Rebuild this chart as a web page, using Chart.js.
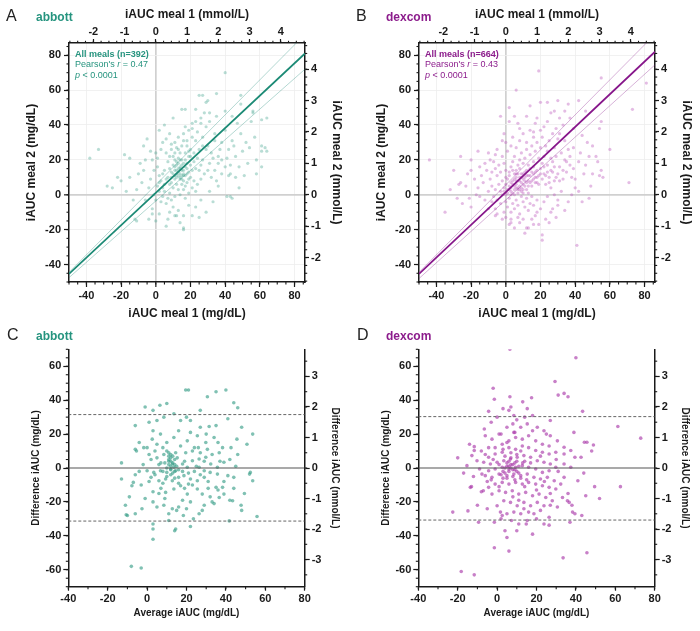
<!DOCTYPE html>
<html><head><meta charset="utf-8">
<script src="https://cdn.jsdelivr.net/npm/chart.js@4/dist/chart.umd.min.js"></script>
<style>
html,body{margin:0;padding:0;background:#fff;}
#wrap{position:relative;width:700px;height:631px;overflow:hidden;background:#fff}
canvas{position:absolute}
</style></head><body>
<div id="wrap">
<canvas id="cA" width="350" height="325" style="left:0;top:0"></canvas>
<canvas id="cB" width="350" height="325" style="left:350px;top:0"></canvas>
<canvas id="cC" width="350" height="311" style="left:0;top:320px"></canvas>
<canvas id="cD" width="350" height="311" style="left:350px;top:320px"></canvas>
</div>
<script>
// ---------- tick labels ----------
const mgTicksScatter = [-40, -20, 0, 20, 40, 60, 80];
const mmolTicksScatter = [-2, -1, 0, 1, 2, 3, 4];
const mgTicksAvg = [-40, -20, 0, 20, 40, 60, 80];
const mgTicksDiff = [-60, -40, -20, 0, 20, 40, 60];
const mmolTicksDiff = [-3, -2, -1, 0, 1, 2, 3];

// ---------- panel labels / titles ----------
const panelLetters = ['A', 'B', 'C', 'D'];
const deviceNames = ['abbott', 'dexcom'];
const mealCounts = ['All meals (n=392)', 'All meals (n=664)'];
const pearsonR = ['0.47', '0.43'];
const pValues = ['< 0.0001', '< 0.0001'];

// ---------- regression / identity lines (x = lineX) ----------
const lineX = [-50, 86];
const abbottFit = [-45.4, 81];
const abbottUpper = [-44.5, 92];
const abbottLower = [-47.5, 72];
const dexcomFit = [-45.3, 82];
const dexcomUpper = [-44.5, 92];
const dexcomLower = [-48, 74.5];

// ---------- Bland-Altman reference lines ----------
const baX = [-40, 80];
const abbottLoA = [31.5, -31.3];
const dexcomLoA = [30.3, -30.7];

// ---------- A: abbott meal 1 vs meal 2 (mg/dL) ----------
const abbottScatter = [
[40,70],[25,57],[35,58],[49,57],[15,49],[29,53],[23,49],[31,47],[40,48],[49,52],[56,47],[61,43],[55,42],[49,35],[23,42],[21,41],[26,41],[17,39],[19,37],[29,39],[34,35],[40,37],[44,31],[54,27],[61,28],[61,25],[61,16],[48,16],[51,11],[42,11],[38,20],[32,24],[27,28],[23,31],[16,31],[11,30],[9,26],[6,24],[13,26],[17,24],[11,20],[12,17],[14,15],[11,14],[8,15],[4,12],[2,11],[16,11],[19,9],[21,14],[25,14],[27,20],[31,18],[34,14],[-5,32],[-33,26],[-38,21],[-15,21],[-9,18],[-6,20],[-7,14],[-15,10],[-20,8],[-25,4],[-11,3],[-4,4],[2,2],[4,-1],[8,1],[0,-3],[6,-5],[10,-7],[-2,-8],[2,-11],[8,-10],[13,-9],[11,-12],[16,-12],[21,-12],[6,-18],[16,-19],[-2,-11],[-6,-3],[-13,-3],[-12,-14],[29,-10],[41,-1],[43,-1],[19,-6],[23,-7],[26,-3],[31,2],[36,5],[43,12],[46,10],[17,5],[13,3],[11,9],[9,7],[5,6],[15,20],[19,22],[22,24],[25,26],[13,33],[8,35],[4,30],[0,24],[-2,20],[1,16],[34,31],[38,30],[42,26],[46,22],[53,18],[36,22],[29,26],
[-11,-15],[16,-20],[14,-16],[12,-12],[44,-2],[58,12],[64,25],[27,57],[17,49],[30,54],[56,48],[64,44],[63,27],[-18,23],
[12,10],[14,12],[13,13],[15,11],[12,14],[14,16],[16,14],[10,12],[13,18],[15,17],[17,16],[18,12],[11,11],[14,9],[16,8],[12,6],[10,4],[18,18],[20,17],[22,19],[24,21],[20,26],[18,28],[14,24],[10,22],[7,19],[5,14],[3,8],[7,10],[9,13],[20,10],[22,8],[24,6],[26,9],[28,12],[30,14],[32,10],[35,8],[38,12],[40,16],[36,18],[33,21],[30,28],[27,33],[24,36],[21,33],[18,31],[15,28],[12,27],[9,29],[6,32],[3,26],[1,21],[-1,14],[-3,9],[1,5],[-1,0],[3,-4],[5,2],[7,-2],[9,-3],[11,-1],[14,0],[17,-2],[19,1],[21,4],[23,2],[16,3],[15,6],[18,7],[20,22],[23,15],[26,17],[19,25],[17,20],[13,21],[11,24],[8,22],[16,35],[21,38],[26,44],[31,42],[35,45],[28,47],[44,45],[47,41],[45,28],[50,25],[52,30],[57,33],[58,20],[37,26],[41,21],[43,17],[48,4],[33,-4],[25,-13],[7,-14],[0,-15],[-4,-14],[-8,7],[-10,12],[-17,2],[-22,10],[-28,5],[-3,25],[-7,28],[2,37],[5,40],[10,44],
[13,11],[15,14],[12,12],[14,10],[16,12],[11,16],[13,15],[15,9],[17,11],[12,19],[10,17],[14,20],[16,18],[18,15],[19,13],[9,10],[8,6],[6,9],[4,4],[2,7]
];

// ---------- B: dexcom meal 1 vs meal 2 (mg/dL) ----------
const dexcomScatter = [
[19,71],[55,67],[81,64],[6,60],[73,49],[20,53],[24,53],[30,54],[36,52],[42,54],[28,48],[34,48],[46,48],[55,42],[54,38],[60,26],[55,14],[54,11],[71,7],[50,12],[46,17],[42,19],[39,27],[34,31],[31,35],[29,38],[22,39],[17,41],[16,36],[7,41],[-2,31],[0,30],[-6,23],[-9,20],[-16,25],[-26,22],[-44,20],[-20,14],[-26,7],[-23,5],[-15,-1],[-10,-8],[-6,-12],[-2,-14],[3,-16],[7,-13],[11,-22],[21,-26],[41,-29],[16,-17],[17,-12],[23,-14],[27,-8],[30,-6],[36,-4],[42,2],[-28,-2],
[-35,-10],[-27,6],[-21,-2],[-20,-7],[-5,-11],[3,-14],[13,-19],[21,-23],[56,10],[48,22],[53,19],
[0,0],[2,3],[4,1],[5,5],[7,4],[3,7],[1,9],[6,10],[8,8],[10,6],[9,12],[11,10],[12,14],[13,8],[14,11],[15,5],[16,9],[17,13],[18,7],[19,11],[20,15],[21,9],[22,12],[23,6],[24,17],[25,10],[26,14],[27,19],[28,8],[29,22],[30,12],[31,16],[32,24],[33,9],[34,20],[35,13],[36,26],[37,17],[38,10],[-1,4],[-2,8],[-3,2],[-4,6],[-5,11],[-6,3],[-7,-1],[-8,5],[-9,9],[-10,2],[-11,14],[-12,-3],[-13,7],[-14,11],[-16,4],[-18,9],[0,-4],[1,-7],[2,-2],[3,-10],[4,-5],[5,-8],[6,-3],[7,-6],[8,-11],[9,-1],[10,-4],[11,-7],[12,-2],[13,-9],[14,-5],[15,-1],[16,-6],[18,-3],[20,-8],[22,-4],[24,-1],[26,-10],[28,0],[30,-3],[32,2],[2,13],[3,16],[4,19],[5,22],[6,14],[7,17],[8,20],[9,24],[10,18],[11,21],[12,26],[13,17],[14,23],[15,28],[16,19],[17,25],[18,30],[19,21],[20,27],[21,33],[22,22],[23,28],[24,25],[25,31],[26,21],[27,35],[28,27],[30,32],[0,14],[-1,18],[-2,22],[-3,13],[-4,17],[-5,26],[-6,15],[-7,19],[-8,13],[-10,24],[1,25],[3,28],[4,33],[6,27],[8,31],[10,35],[12,30],[14,37],[16,33],[18,44],[20,37],[24,42],[12,45],[8,38],[-1,35],[2,42],[5,3],[6,6],[7,1],[8,3],[9,7],[10,1],[11,5],[12,3],[13,1],[14,7],[3,4],[4,8],[5,12],[6,8],[7,12],[8,15],[9,4],[10,9],[11,13],[12,7],[13,11],[14,15],[15,13],[16,16],[17,10],[18,14],[19,6],[20,12],[21,18],[22,16],[23,11],[24,13],[25,7],[26,4],[27,13],[28,16],[29,10],[31,8],[33,14],[35,19],[37,22],[39,15],[40,9],[43,24],[45,12],[47,30],[49,5],[52,22],[-2,0],[-3,-5],[-5,-3],[-6,-8],[-8,-4],[-1,-10],[0,-13],[2,-17],[5,-19],[8,-16],[10,-14],[12,-19],[15,-14],[18,-10],[19,-17],[25,-16],[29,-13],[34,-9],[38,0],[40,4],[44,-4],[48,-2],[-12,18],[-15,16],[-17,0],[-20,20],[-22,12],[-25,-5],[-30,14],[-32,3],[2,50],[14,51],[-3,45],[5,45],[26,47],[31,44],[39,38],[44,34],[50,28],[37,44],[33,40],
[1,1],[3,2],[5,0],[7,3],[9,2],[4,6],[6,4],[8,5],[10,3],[2,5],[0,6],[1,3],[3,0],[5,9],[7,8],[9,10],[11,8],[-1,2],[0,10],[2,11],[4,14],[6,12],[8,10],[10,12],[12,11],[13,5],[15,8],[16,12],[17,7],[18,10]
];

// ---------- C: abbott Bland-Altman (average, difference) ----------
const abbottBA = [
[-8,-58],[-3,-59],[3,-42],[3,-36],[3,-33],[14,-37],[14.5,-36],[11,-31],[-13,-6.5],[-13,3],[-10.6,-27.6],[-10,-28],[-6,-27],[-7,-8.5],[-7.7,-10.5],[-2.6,-24],[-5.4,10],[-6,11],[-6,25],[-1,36],[3,34],[6.5,37],[10,38],[19.6,46],[21,46],[30.6,42],[35,45],[40,46],[44,38.5],[46,35.5],[27,34],[13.6,32],[41,29],[48,24],[35,25],[31.5,24.5],[45.6,17],[50.7,14],[53.6,20],[52.4,-2.6],[52,-3.6],[53.6,-7.5],[55.8,-28.6],[49.4,-15],[42,-19],[43.4,-19.3],[41.7,-31.2],[47.7,-22],[39,-15.4],[38.3,-11.4],[35,-11.4],[36.6,-17.4],[34,-21],[32,-17],[29,-22],[26.4,-27],[23.5,-30],[22,-34.5],[18.4,-28],[16,-23],[12.8,-24],[11,-27],[8.5,-22],[5,-23],[3,-20],[6,-15],[9.4,-14.4],[13.6,-12.4],[17,-10.5],[21,-9.5],[25.5,-7.5],[29,-5.5],[32,-2.6],[35.7,0.4],[39,3.4],[42.6,12],[38.3,12],[34,18],[29.8,15],[25.5,19],[22,21],[20.4,16],[17,13],[13.6,18],[10,15],[6.8,20],[2.6,17],[-1.7,12],[1,8],[5,6],[8.5,8],[11,4],[12.8,2.4],[13.6,0.4],[12,-0.6],[14.5,-1.6],[10,-2.6],[6.8,-1.6],[3.4,-2.6],[0,-1.6],[18,2.4],[20.4,0.4],[23,4.3],[26.4,5.3],[29.8,6.3],[32.3,2.4],[18.7,-4.5],[22,-6.5],[16,-5.5],[12.8,-7.5],[9.4,-6.5],[6,-7.5],[2,-5.5],[25.5,-12.4],[28,-15.4],[20.4,-15.4],[18,-19],[12,8],[14.5,9],[15.3,6],[11,9],[19.6,9],[23,10],[27,9],[30.6,11],[36.6,9],[26.4,0.4],[29,-1.6],[35.7,-3.6],[41,-4.5],[44,-5.5],[1,27],[5,28],[8.5,30],[17,28],[22,28],[27,24],
[11,2],[12,-1],[13,3],[12,1],[14,-2],[10,0],[13,-3],[11,5],[15,1],[12,4],[9,3],[14,2],[16,-1],[8,-2],[10,-5],[6,2],[4,-4],[2,5],[1,-8],[-2,2],[-3,-10],[0,12],[3,22],[7,3],[8,12],[18,-2],[19,4],[21,-3],[23,-10],[24,12],[25,1],[27,-4],[29,4],[31,-8],[33,8],[36,-13],[39,-8],[42,5],[44,-12],[46,8],[-4,15],[-6,-4],[-9,-17],[-11,-22],[5,14],[9,-18],[16,22],[20,30],[30,20],[15,-25],[22,-20],[28,-25],[33,-20],[36,15],[45,1],[48,-25],
[12,6],[13,7],[11,7],[14,5],[10,10],[12,-4],[14,-6],[16,-9],[8,-9],[4,10],[19,-12],[24,-2],[7,-12],[3,-14],[20,-24],[26,12],[31,-12],[-1,-18],[-4,-2],[37,4]
];

// ---------- D: dexcom Bland-Altman (average, difference) ----------
const dexcomBA = [
[6.5,70],[40,65],[29.4,51],[-2,47],[34,44],[31,43],[36,42],[17.5,41.4],[-1.4,40.5],[6.5,42],[3,35],[6,34],[-4.3,33.4],[15.3,35],[43.4,33.4],[61.3,24.5],[72.9,17.6],[48.9,13.6],[45.6,15.2],[39,21],[27,28],[18,31],[8.5,31],[10,28.4],[-6.5,23],[-6,19],[-11.6,12.6],[-11.6,10.3],[-12.8,7.3],[-10.2,4.3],[-15.3,1.4],[-8.9,-0.6],[-7.7,-3.6],[-13.6,-11.4],[-13,-11],[-7,-13.4],[-14.8,-25.3],[-22.5,-26],[-9.4,-32],[-1.4,-32],[-1.4,-47],[5,-41],[6,-49],[-18.2,-61],[-11.6,-63],[33.5,-53],[45.6,-50],[15.3,-31],[14.8,-33],[18,-39],[10,-37],[7.3,-31],[5,-27],[2.6,-28],[23.8,-33],[26.4,-33.7],[37,-32],[38.3,-26],[39.5,-27],[35.7,-19.3],[36.6,-20.3],[45,-16.4],[49.5,-11],[62.6,-11],[41,-7.5],[34,-5.5],[37.4,0.4],[34,2.4],[42.6,6.3],[44.3,15.2],[39.5,6.3],[37.4,10.3],[34,12.2],[30.6,16],[27,19],[23.8,22],[20.4,24],[15.3,26],[12,24],[8.5,21],[5,24],[1,20],[-2.6,17],[-4.3,12],[-1,12],[2.6,14],[6,16],[9.4,18],[12.8,17],[16,19],[19.6,16],[23,14],[26.4,13],[29.8,9.3],[34,8.3],[26.4,8.3],[23,9.3],[19.6,10.3],[16,12],[12.8,13],[9.4,11],[6,12],[2.6,9.3],[-1,8.3],[-4.3,6.3],[-6.8,3.4],[-3.4,2.4],[0,3.4],[3.4,4.3],[6.8,5.3],[10.2,6.3],[13.6,7.3],[17,6.3],[20.4,4.3],[23.8,3.4],[27,2.4],[29.8,0.4],[26.4,-1.6],[23,-2.6],[19.6,-0.6],[16,0.4],[12.8,1.4],[9.4,0.4],[6,-0.6],[2.6,0.4],[-1,-0.6],[-4.3,-1.6],[-6,-4.5],[-2.6,-5.5],[1,-3.6],[5,-4.5],[8.5,-3.6],[12,-4.5],[15.3,-3.6],[18.7,-5.5],[22,-6.5],[25.5,-5.5],[29,-7.5],[32.3,-9.5],[29.8,-12.4],[26.4,-11.4],[23,-10.5],[19.6,-9.5],[16,-8.5],[12.8,-9.5],[9.4,-8.5],[6,-9.5],[2.6,-8.5],[-1,-9.5],[-4.3,-11.4],[-2.6,-15.4],[1,-13.4],[4.3,-14.4],[7.7,-13.4],[11,-15.4],[14.5,-14.4],[18,-16.4],[21.3,-15.4],[24.7,-17.4],[28,-19.3],[23.8,-22.3],[20.4,-20.3],[17,-22.3],[13.6,-20.3],[10.2,-22.3],[6.8,-20.3],[3.4,-19.3],[0,-22.3],[1.7,-26],[8.5,-26],[12,-27],[13.6,-24],[18.7,-27],[22,-25],[30.6,-23],[33.2,-17.4],[26.4,-29],
[5,1],[6,-2],[7,2],[8,-1],[9,3],[10,-2],[4,0],[3,-2],[6,4],[8,-5],[11,1],[7,6],[5,-6],[12,-6],[2,-4],[1,2],[9,-7],[13,3],[4,7],[10,4],[3,11],[14,-11],[-3,-7],[-6,8],[-8,-14],[-10,-22],[-14,14],[-17,-3],[-20,6],[8,26],[14,30],[20,-30],[25,20],[31,-2],[36,-15],[44,-3],[48,10],[52,-18],[2,-30],[11,-33],[-5,-24],[-3,27],[7,36],[18,22],[27,-22],[38,-22],[43,-28],[4,-37],[13,39],[0,30],
[7,0],[8,2],[6,1],[9,-1],[5,3],[4,-3],[11,-3],[10,8],[7,9],[3,-6],[12,10],[14,4],[15,-7],[17,3],[1,-11],[-2,5],[8,-17],[11,-19],[5,15],[20,-13],[22,7],[-5,-8],[16,-26],[30,5],[-8,10],[9,21],[24,-8],[-12,-5],[27,-15],[2,20]
];

// ---------- colours ----------
const teal = {text:'#26947f', line:'#1b8a75', light:'rgba(27,138,117,0.33)', pt:'rgba(70,165,145,0.38)', ptBA:'rgba(60,160,138,0.65)'};
const purple = {text:'#8c1c8c', line:'#86158a', light:'rgba(134,21,138,0.33)', pt:'rgba(190,95,190,0.42)', ptBA:'rgba(170,60,170,0.65)'};
const INK = '#1a1a1a';
const FONT = '"Liberation Sans", Arial, Helvetica, sans-serif';
Chart.defaults.font.family = FONT;
Chart.defaults.color = INK;

const fixed = (ticksArr) => (s) => { s.ticks = ticksArr.map(v => ({value: v})); };
const toPts = (arr) => arr.map(p => ({x: p[0], y: p[1]}));
const toLine = (xs, ys) => xs.map((x, i) => ({x: x, y: ys[i]}));

function minorTickPlugin(list) {
  return {
    id: 'minorTicks',
    afterDraw(chart) {
      const ctx = chart.ctx;
      ctx.save();
      ctx.strokeStyle = INK; ctx.lineWidth = 1.1;
      list.forEach(m => {
        const s = chart.scales[m.id];
        const n0 = Math.ceil(s.min / m.step - 1e-9), n1 = Math.floor(s.max / m.step + 1e-9);
        for (let n = n0; n <= n1; n++) {
          const p = s.getPixelForValue(n * m.step);
          ctx.beginPath();
          if (s.isHorizontal()) {
            const y = s.position === 'top' ? s.bottom : s.top;
            const d = s.position === 'top' ? -m.len : m.len;
            ctx.moveTo(p, y); ctx.lineTo(p, y + d);
          } else {
            const x = s.position === 'left' ? s.right : s.left;
            const d = s.position === 'left' ? -m.len : m.len;
            ctx.moveTo(x, p); ctx.lineTo(x + d, p);
          }
          ctx.stroke();
        }
      });
      ctx.restore();
    }
  };
}

function textPlugin(items) {
  return {
    id: 'texts',
    afterDraw(chart) {
      const ctx = chart.ctx;
      ctx.save();
      ctx.textBaseline = 'alphabetic'; ctx.textAlign = 'left';
      items.forEach(it => {
        let x = it.x;
        it.parts.forEach(p => {
          ctx.font = p.font; ctx.fillStyle = p.color;
          ctx.fillText(p.t, x, it.y);
          x += ctx.measureText(p.t).width;
        });
      });
      ctx.restore();
    }
  };
}

function tickOpts(size, pad) {
  return {font: {size: size, weight: 'bold'}, color: INK, padding: pad, maxRotation: 0, autoSkip: false, callback: v => String(v)};
}
function titleOpts(text, size, pad) {
  return {display: true, text: text, font: {size: size, weight: 'bold'}, color: INK, padding: pad};
}
const border = {display: true, color: INK, width: 1.5};

function scatterPanel(id, idx, pts, col, fit, upper, lower) {
  const gridMain = {
    color: c => (c.tick && c.tick.value === 0) ? '#d0d0d0' : '#ededed',
    lineWidth: c => (c.tick && c.tick.value === 0) ? 1.7 : 0.8,
    tickColor: INK, tickLength: 5, tickWidth: 1.2
  };
  const gridSide = {drawOnChartArea: false, tickColor: INK, tickLength: 4, tickWidth: 1.2};
  new Chart(document.getElementById(id), {
    type: 'scatter',
    data: {datasets: [
      {data: toLine(lineX, fit), showLine: true, borderColor: col.line, borderWidth: 1.7, pointRadius: 0, order: 0},
      {data: toLine(lineX, upper), showLine: true, borderColor: col.light, borderWidth: 1, pointRadius: 0, order: 1},
      {data: toLine(lineX, lower), showLine: true, borderColor: col.light, borderWidth: 1, pointRadius: 0, order: 1},
      {data: toPts(pts), pointRadius: 1.6, pointBackgroundColor: col.pt, pointBorderWidth: 0, order: 2}
    ]},
    options: {
      responsive: false, animation: false, devicePixelRatio: 1,
      layout: {padding: 0},
      plugins: {legend: {display: false}, tooltip: {enabled: false}},
      scales: {
        x: {type: 'linear', position: 'bottom', min: -50, max: 86,
            afterBuildTicks: fixed(mgTicksScatter), afterFit: s => { s.height = 43; },
            grid: gridMain, border: border, ticks: tickOpts(11, 2),
            title: titleOpts('iAUC meal 1 (mg/dL)', 12, {top: 0, bottom: 4.3})},
        x2: {type: 'linear', position: 'top', min: -50 / 18, max: 86 / 18,
            afterBuildTicks: fixed(mmolTicksScatter), afterFit: s => { s.height = 43; },
            grid: gridSide, border: border, ticks: tickOpts(11, 0),
            title: titleOpts('iAUC meal 1 (mmol/L)', 12, {top: 7.8, bottom: 0})},
        y: {type: 'linear', position: 'left', min: -50, max: 87,
            afterBuildTicks: fixed(mgTicksScatter), afterFit: s => { s.width = 69; },
            grid: gridMain, border: border, ticks: tickOpts(11, 3),
            title: titleOpts('iAUC meal 2 (mg/dL)', 12, {top: 24.8, bottom: 0})},
        y2: {type: 'linear', position: 'right', min: -50 / 18, max: 87 / 18,
            afterBuildTicks: fixed(mmolTicksScatter), afterFit: s => { s.width = 45; },
            grid: gridSide, border: border, ticks: tickOpts(11, 2),
            title: titleOpts('iAUC meal 2 (mmol/L)', 12, {top: 6.3, bottom: 0})}
      }
    },
    plugins: [
      minorTickPlugin([{id: 'x', step: 5, len: 2.5}, {id: 'y', step: 5, len: 2.5}, {id: 'x2', step: 0.25, len: 2.2}, {id: 'y2', step: 0.25, len: 2.2}]),
      textPlugin([
        {x: 6, y: 20.7, parts: [{t: panelLetters[idx], font: '16px ' + FONT, color: '#222'}]},
        {x: 36, y: 20.7, parts: [{t: deviceNames[idx], font: 'bold 12px ' + FONT, color: col.text}]},
        {x: 75, y: 56.5, parts: [{t: mealCounts[idx], font: 'bold 9px ' + FONT, color: col.text}]},
        {x: 75, y: 67, parts: [{t: "Pearson's ", font: '9px ' + FONT, color: col.text}, {t: 'r', font: 'italic 9px ' + FONT, color: col.text}, {t: ' = ' + pearsonR[idx], font: '9px ' + FONT, color: col.text}]},
        {x: 75, y: 77.5, parts: [{t: 'p', font: 'italic 9px ' + FONT, color: col.text}, {t: ' ' + pValues[idx], font: '9px ' + FONT, color: col.text}]}
      ])
    ]
  });
}

function baPanel(id, idx, pts, col, loa) {
  const gridL = {drawOnChartArea: false, tickColor: INK, tickLength: 5, tickWidth: 1.2};
  new Chart(document.getElementById(id), {
    type: 'scatter',
    data: {datasets: [
      {data: toLine(baX, [0, 0]), showLine: true, borderColor: '#555', borderWidth: 1.1, pointRadius: 0, order: 0},
      {data: toLine(baX, [loa[0], loa[0]]), showLine: true, borderColor: '#666', borderWidth: 1, borderDash: [3, 2], pointRadius: 0, order: 0},
      {data: toLine(baX, [loa[1], loa[1]]), showLine: true, borderColor: '#666', borderWidth: 1, borderDash: [3, 2], pointRadius: 0, order: 0},
      {data: toPts(pts), pointRadius: 1.8, pointBackgroundColor: col.ptBA, pointBorderWidth: 0, order: 1}
    ]},
    options: {
      responsive: false, animation: false, devicePixelRatio: 1,
      layout: {padding: {top: 29.3, left: 0, right: 0, bottom: 0}},
      plugins: {legend: {display: false}, tooltip: {enabled: false}},
      scales: {
        x: {type: 'linear', position: 'bottom', min: -40, max: 80,
            afterBuildTicks: fixed(mgTicksAvg), afterFit: s => { s.height = 44.3; },
            grid: {drawOnChartArea: false, tickColor: INK, tickLength: 4, tickWidth: 1.2}, border: border, ticks: tickOpts(11, 2),
            title: titleOpts('Average iAUC (mg/dL)', 10, {top: 0, bottom: 11.3})},
        y: {type: 'linear', position: 'left', min: -70, max: 70,
            afterBuildTicks: fixed(mgTicksDiff), afterFit: s => { s.width = 68.3; },
            grid: gridL, border: border, ticks: tickOpts(11, 2),
            title: titleOpts('Difference iAUC (mg/dL)', 10, {top: 30, bottom: 0})},
        y2: {type: 'linear', position: 'right', min: -70 / 18, max: 70 / 18,
            afterBuildTicks: fixed(mmolTicksDiff), afterFit: s => { s.width = 45.3; },
            grid: gridL, border: border, ticks: tickOpts(11, 2),
            title: titleOpts('Difference iAUC (mmol/L)', 10, {top: 9, bottom: 0})}
      }
    },
    plugins: [
      minorTickPlugin([{id: 'x', step: 10, len: 2.5}, {id: 'y', step: 5, len: 2.5}, {id: 'y2', step: 0.5, len: 2.5}]),
      textPlugin([
        {x: 7, y: 20, parts: [{t: panelLetters[idx + 2], font: '16px ' + FONT, color: '#222'}]},
        {x: 36, y: 20, parts: [{t: deviceNames[idx], font: 'bold 12px ' + FONT, color: col.text}]}
      ])
    ]
  });
}

scatterPanel('cA', 0, abbottScatter, teal, abbottFit, abbottUpper, abbottLower);
scatterPanel('cB', 1, dexcomScatter, purple, dexcomFit, dexcomUpper, dexcomLower);
baPanel('cC', 0, abbottBA, teal, abbottLoA);
baPanel('cD', 1, dexcomBA, purple, dexcomLoA);
</script>
</body></html>
